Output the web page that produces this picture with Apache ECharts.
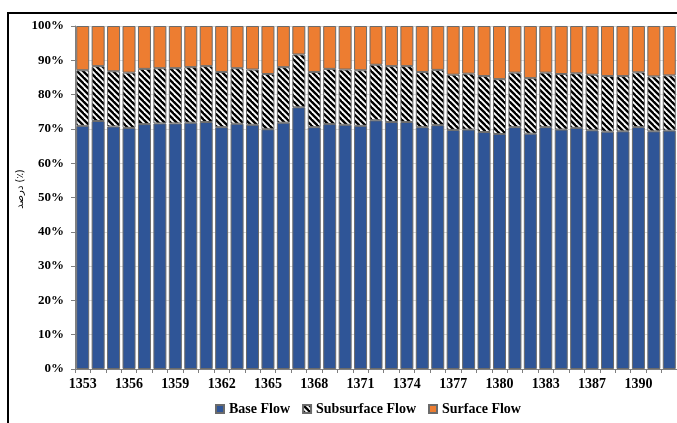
<!DOCTYPE html>
<html>
<head>
<meta charset="utf-8">
<script src="https://cdn.jsdelivr.net/npm/echarts@6/dist/echarts.min.js"></script>
<style>
html,body{margin:0;padding:0;background:#fff;}
#chart{width:677px;height:423px;}
</style>
</head>
<body>
<div id="chart"></div>
<script>
// Years (one year, 1385, is absent in the source record)
var years = ['1353','1354','1355','1356','1357','1358','1359','1360','1361','1362','1363','1364','1365','1366','1367','1368','1369','1370','1371','1372','1373','1374','1375','1376','1377','1378','1379','1380','1381','1382','1383','1384','1386','1387','1388','1389','1390','1391','1392'];
// Percentages
var baseFlow = [70.9,72.3,70.7,70.3,71.4,71.6,71.6,71.8,72.0,70.5,71.5,71.2,69.9,71.8,76.3,70.5,71.4,71.2,70.9,72.5,72.0,72.0,70.5,71.1,69.7,69.8,69.1,68.5,70.5,68.6,70.5,69.8,70.3,69.6,69.2,69.3,70.5,69.3,69.5];
var subsurfaceFlow = [16.2,16.0,16.1,16.1,16.1,16.1,16.1,16.2,16.3,16.1,16.2,16.1,16.1,16.2,15.4,16.1,16.1,16.1,16.2,16.2,16.3,16.3,16.1,16.1,16.1,16.3,16.3,16.0,15.9,16.2,15.9,16.2,15.9,16.2,16.2,16.1,16.0,16.0,16.1];
var surfaceFlow = [12.9,11.7,13.2,13.6,12.5,12.3,12.3,12.0,11.7,13.4,12.3,12.7,14.0,12.0,8.3,13.4,12.5,12.7,12.9,11.3,11.7,11.7,13.4,12.8,14.2,13.9,14.6,15.5,13.6,15.2,13.6,14.0,13.8,14.2,14.6,14.6,13.5,14.7,14.4];
var seriesNames = ['Base Flow','Subsurface Flow','Surface Flow'];
var yTitle = 'درصد (٪)';

// hatch pattern (backslash stripes)
var P = 6;
var cv = document.createElement('canvas');
cv.width = P; cv.height = P;
var cx = cv.getContext('2d');
cx.fillStyle = '#ffffff';
cx.fillRect(0,0,P,P);
cx.strokeStyle = '#000000';
cx.lineWidth = 2.4;
for (var k=-1;k<=1;k++){
  cx.beginPath();
  cx.moveTo(k*P-1, -1);
  cx.lineTo(k*P+P+1, P+1);
  cx.stroke();
}
var hatch = {image: cv, repeat: 'repeat'};

var serif = '"Liberation Serif","Times New Roman",serif';
var chart = echarts.init(document.getElementById('chart'));
var border = {borderColor:'#6b6b6b', borderWidth:1};
chart.setOption({
  animation:false,
  backgroundColor:'#ffffff',
  grid:{left:75, right:0, top:26, bottom:54, containLabel:false},
  legend:{
    data:seriesNames,
    bottom:2,
    left:210,
    itemWidth:8, itemHeight:8, itemGap:12,
    textStyle:{fontFamily:serif, fontWeight:'bold', fontSize:14, color:'#000'},
    icon:'rect'
  },
  xAxis:{
    type:'category',
    data:years,
    axisLine:{lineStyle:{color:'#7f7f7f'}},
    axisTick:{show:true, interval:0, length:4, lineStyle:{color:'#7f7f7f'}},
    axisLabel:{interval:2, fontFamily:serif, fontWeight:'bold', fontSize:14, color:'#000', margin:8}
  },
  yAxis:{
    type:'value', min:0, max:100, interval:10,
    axisLine:{show:true, lineStyle:{color:'#7f7f7f'}},
    axisTick:{show:true, length:4, lineStyle:{color:'#7f7f7f'}},
    axisLabel:{formatter:'{value}%', fontFamily:serif, fontWeight:'bold', fontSize:13, color:'#000', margin:11},
    splitLine:{show:true, lineStyle:{color:'#d9d9d9'}}
  },
  series:[
    {name:seriesNames[0], type:'bar', stack:'t', data:baseFlow, barWidth:13, itemStyle:Object.assign({color:'#2F5597'},border)},
    {name:seriesNames[1], type:'bar', stack:'t', data:subsurfaceFlow, barWidth:13, itemStyle:Object.assign({color:hatch},border)},
    {name:seriesNames[2], type:'bar', stack:'t', data:surfaceFlow, barWidth:13, itemStyle:Object.assign({color:'#ED7D31'},border)}
  ],
  graphic:[
    {type:'text', x:20, y:189, rotation:Math.PI/2,
     style:{text:yTitle, fontFamily:'"DejaVu Sans",sans-serif', fontSize:10, fill:'#000', align:'center', verticalAlign:'middle'}},
    {type:'rect', shape:{x:8, y:13, width:720, height:480}, style:{fill:'none', stroke:'#000', lineWidth:2}, z:100}
  ]
});
</script>
</body>
</html>
